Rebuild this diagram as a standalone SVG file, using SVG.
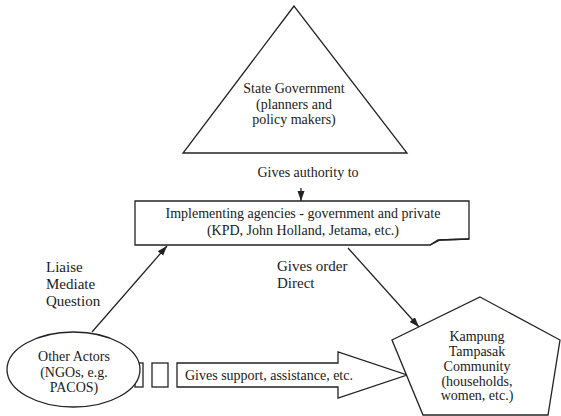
<svg xmlns="http://www.w3.org/2000/svg" width="561" height="416" viewBox="0 0 561 416">
  <style>
    .shape { fill: #ffffff; stroke: #222222; stroke-width: 1.3; }
    .line { fill: none; stroke: #222222; stroke-width: 1.3; }
    text { font-family: "Liberation Serif", "Times New Roman", serif; fill: #1a1a1a; text-anchor: middle; }
    .s14 { font-size: 14px; }
    .s15 { font-size: 15px; }
    .left { text-anchor: start; }
  </style>
  <defs>
    <marker id="arr" markerUnits="userSpaceOnUse" markerWidth="11" markerHeight="8" refX="10" refY="3.5" orient="auto">
      <path d="M0,0 L10,3.5 L0,7 Z" fill="#222222"/>
    </marker>
  </defs>
  <rect width="561" height="416" fill="#ffffff"/>

  <g id="connectors">
    <line class="line" x1="301" y1="188" x2="301" y2="201" marker-end="url(#arr)"/>
    <line class="line" x1="92" y1="332" x2="167" y2="246" marker-end="url(#arr)"/>
    <line class="line" x1="348" y1="248" x2="419" y2="327" marker-end="url(#arr)"/>
    <g id="support-arrow">
      <rect class="shape" x="135" y="363" width="8" height="24"/>
      <rect class="shape" x="152" y="363" width="16" height="24"/>
      <polygon class="shape" points="177,363 338,363 338,352 407,375 338,398 338,387 177,387"/>
      <text class="s14 left" x="185" y="380">Gives support, assistance, etc.</text>
    </g>
    <text class="s14" x="308" y="177">Gives authority to</text>
    <text class="s15 left" x="46" y="272">Liaise</text>
    <text class="s15 left" x="46" y="289">Mediate</text>
    <text class="s15 left" x="46" y="306">Question</text>
    <text class="s15 left" x="277" y="271">Gives order</text>
    <text class="s15 left" x="277" y="288">Direct</text>
  </g>

  <g id="state-government">
    <polygon class="shape" points="294,6 183,153 407,153"/>
    <text class="s14" x="294" y="93">State Government</text>
    <text class="s14" x="294" y="109">(planners and</text>
    <text class="s14" x="294" y="124">policy makers)</text>
  </g>

  <g id="implementing-agencies">
    <path class="shape" d="M135,201 H469 V239 L440,240 Q434,243 430,245 H135 Z"/>
    <path class="line" d="M430,245 L438,240 L469,239" stroke-width="1"/>
    <text class="s14" x="303" y="218">Implementing agencies - government and private</text>
    <text class="s14" x="303" y="235">(KPD, John Holland, Jetama, etc.)</text>
  </g>

  <g id="other-actors">
    <ellipse class="shape" cx="73.5" cy="369.5" rx="66.5" ry="37.5"/>
    <text class="s14" x="74" y="361">Other Actors</text>
    <text class="s14" x="74" y="377">(NGOs, e.g.</text>
    <text class="s14" x="74" y="392">PACOS)</text>
  </g>

  <g id="kampung-tampasak">
    <polygon class="shape" points="480,297 560,340 548,415 423,415 392,340"/>
    <text class="s14" x="477" y="341">Kampung</text>
    <text class="s14" x="477" y="356">Tampasak</text>
    <text class="s14" x="477" y="371">Community</text>
    <text class="s14" x="477" y="386">(households,</text>
    <text class="s14" x="477" y="400">women, etc.)</text>
  </g>
</svg>
